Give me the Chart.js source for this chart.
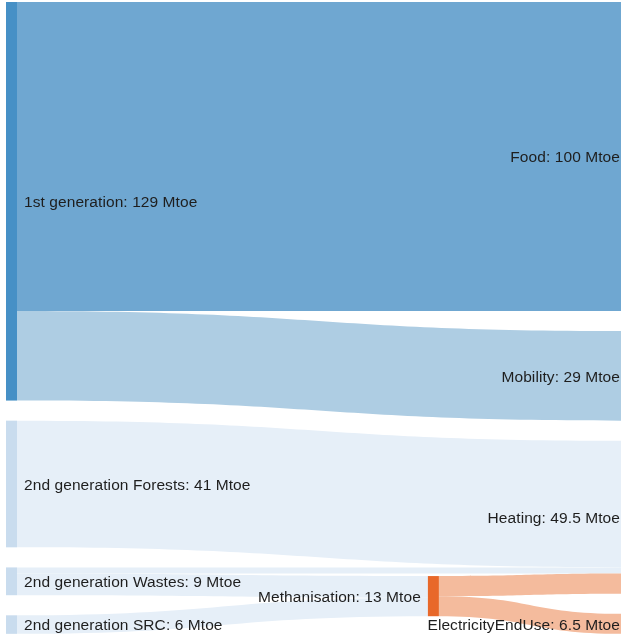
<!DOCTYPE html>
<html>
<head>
<meta charset="utf-8">
<script src="https://cdn.jsdelivr.net/npm/chart.js@4/dist/chart.umd.min.js"></script>
<style>
  html, body { margin: 0; padding: 0; background: #fff; }
  #wrap { width: 621px; height: 636px; position: relative; }
</style>
</head>
<body>
<div id="wrap"><canvas id="chart"></canvas></div>
<script>
// nodes
const nodeNames = [
  '1st generation',
  '2nd generation Forests',
  '2nd generation Wastes',
  '2nd generation SRC',
  'Methanisation',
  'Food',
  'Mobility',
  'Heating',
  'ElectricityEndUse'
]
const nodeColumn = [0, 0, 0, 0, 1, 2, 2, 2, 2]

// links (Mtoe)
const linkSource = [0, 0, 1, 2, 2, 3, 4, 4]
const linkTarget = [5, 6, 7, 7, 4, 4, 7, 8]
const linkValue = [100, 29, 41, 2, 7, 6, 6.5, 6.5]

const unit = 'Mtoe'

// layout + styles
const columnX = [0, 0.686, 1]
const columnStart = [0, 185.8, 0]
const nodePadding = 6.5
const NODE_WIDTH = 11
const nodeColors = ['#4690c6', '#c9dcee', '#c9dcee', '#c9dcee', '#e8682a', '#6fa7d1', '#aecde3', '#e6eff8', '#f4bb9d']
const linkColors = ['#6fa7d1', '#aecde3', '#e6eff8', '#e6eff8', '#e6eff8', '#e6eff8', '#f4bb9d', '#f4bb9d']

function layoutNodes() {
  const nodes = nodeNames.map((name, i) => {
    let inV = 0, outV = 0
    linkValue.forEach((v, j) => {
      if (linkTarget[j] === i) inV += v
      if (linkSource[j] === i) outV += v
    })
    return { name, col: nodeColumn[i], value: Math.max(inV, outV) }
  })
  const next = columnStart.slice()
  nodes.forEach(n => {
    n.y0 = next[n.col]
    n.y1 = n.y0 + n.value
    next[n.col] = n.y1 + nodePadding
  })
  const links = linkValue.map((v, i) => ({ s: linkSource[i], t: linkTarget[i], v, color: linkColors[i] }))
  nodes.forEach((n, i) => {
    let off = n.y0
    links.filter(l => l.s === i).sort((a, b) => nodes[a.t].y0 - nodes[b.t].y0).forEach(l => {
      l.sy0 = off; off += l.v; l.sy1 = off
    })
    off = n.y0
    links.filter(l => l.t === i).sort((a, b) => nodes[a.s].y0 - nodes[b.s].y0).forEach(l => {
      l.ty0 = off; off += l.v; l.ty1 = off
    })
  })
  return { nodes, links }
}

const sankey = layoutNodes()

const sankeyPlugin = {
  id: 'sankey-draw',
  afterDatasetsDraw(chart) {
    const { ctx, scales } = chart
    const x = scales.x, y = scales.y
    const { nodes, links } = sankey

    links.forEach(l => {
      const x0 = x.getPixelForValue(columnX[nodes[l.s].col]) + NODE_WIDTH
      const x1 = x.getPixelForValue(columnX[nodes[l.t].col])
      const xm = (x0 + x1) / 2
      const a0 = y.getPixelForValue(l.sy0), a1 = y.getPixelForValue(l.sy1)
      const b0 = y.getPixelForValue(l.ty0), b1 = y.getPixelForValue(l.ty1)
      ctx.save()
      ctx.beginPath()
      ctx.moveTo(x0, a0)
      ctx.bezierCurveTo(xm, a0, xm, b0, x1, b0)
      ctx.lineTo(x1, b1)
      ctx.bezierCurveTo(xm, b1, xm, a1, x0, a1)
      ctx.closePath()
      ctx.fillStyle = l.color
      ctx.fill()
      ctx.restore()
    })

    nodes.forEach((n, i) => {
      const nx = x.getPixelForValue(columnX[n.col])
      const top = y.getPixelForValue(n.y0)
      const bottom = y.getPixelForValue(n.y1)
      ctx.save()
      ctx.fillStyle = nodeColors[i]
      ctx.fillRect(nx, top, NODE_WIDTH, bottom - top)
      ctx.restore()
    })

    nodes.forEach(n => {
      const nx = x.getPixelForValue(columnX[n.col])
      const cy = (y.getPixelForValue(n.y0) + y.getPixelForValue(n.y1)) / 2
      ctx.save()
      ctx.font = '15.5px "Liberation Sans", Arial, sans-serif'
      ctx.letterSpacing = '0.08px'
      ctx.fillStyle = '#1e1e1e'
      ctx.textBaseline = 'middle'
      let tx
      if (n.col === 0) {
        ctx.textAlign = 'left'
        tx = nx + NODE_WIDTH + 7
      } else if (n.col === 1) {
        ctx.textAlign = 'right'
        tx = nx - 7
      } else {
        ctx.textAlign = 'right'
        tx = nx - 1
      }
      ctx.fillText(`${n.name}: ${n.value} ${unit}`, tx, cy + 1.5)
      ctx.restore()
    })
  }
}

const chart = new Chart(document.getElementById('chart'), {
  type: 'scatter',
  data: {
    datasets: [{
      data: sankey.nodes.map(n => ({ x: columnX[n.col], y: n.y0 })),
      pointRadius: 0
    }]
  },
  options: {
    responsive: true,
    maintainAspectRatio: false,
    animation: false,
    layout: { padding: { left: 6, top: 2, right: 0, bottom: 0 } },
    scales: {
      x: { type: 'linear', min: 0, max: 1, display: false },
      y: { type: 'linear', min: 0, max: 205.2, reverse: true, display: false }
    },
    plugins: {
      legend: { display: false },
      tooltip: { enabled: false }
    }
  },
  plugins: [sankeyPlugin]
})
</script>
</body>
</html>
